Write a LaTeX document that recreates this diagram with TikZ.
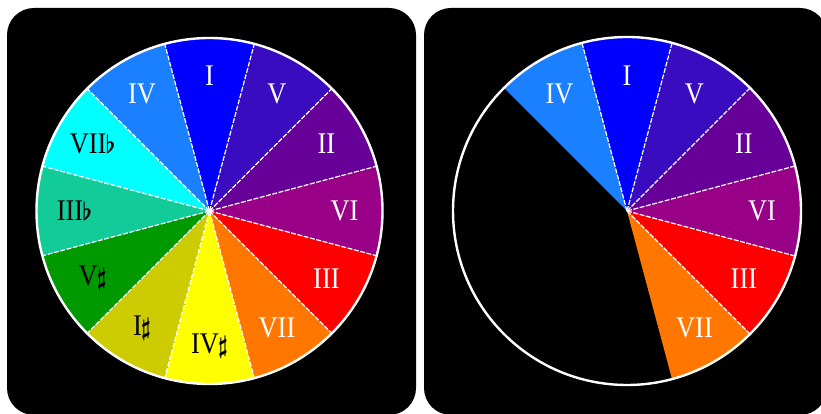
\documentclass[tikz,border=0pt]{standalone}
\usepackage{amsmath}
\usepackage{fontspec}
\setmainfont{Liberation Serif}
\definecolor{cI}{HTML}{0000FF}
\definecolor{cV}{HTML}{3A0CC0}
\definecolor{cII}{HTML}{660099}
\definecolor{cVI}{HTML}{990088}
\definecolor{cIII}{HTML}{FF0000}
\definecolor{cVII}{HTML}{FF7700}
\definecolor{cIVs}{HTML}{FFFF00}
\definecolor{cIs}{HTML}{CCCC00}
\definecolor{cVs}{HTML}{009900}
\definecolor{cIIIb}{HTML}{11CC99}
\definecolor{cVIIb}{HTML}{00FFFF}
\definecolor{cIV}{HTML}{1A80FF}
\tikzset{
  panel/.style={fill=black, rounded corners=27pt},
  sepline/.style={white, line width=1.2pt, dash pattern=on 5pt off 1.5pt},
  rim/.style={white, line width=2.4pt},
  lbl/.style={inner sep=0pt, font=\fontsize{30}{30}\selectfont},
}
\newcommand{\degtxt}[1]{\scalebox{0.88}[1]{#1}}
\newcommand{\shp}{\kern-1pt$\boldsymbol{\sharp}$}
\newcommand{\flt}{\kern-1pt$\boldsymbol{\flat}$}
\begin{document}
\begin{tikzpicture}[x=1pt,y=1pt]
\useasboundingbox (0,0) rectangle (821,414);
\fill[white] (0,0) rectangle (821,414);
\fill[panel] (7,-1) rectangle (416,406);
\fill[panel] (424,-1) rectangle (827,406);
% ---------- left wheel ----------
\begin{scope}[shift={(209.5,203)}]
  \def\R{173}
  \foreach \a/\c in {90/cI,60/cV,30/cII,0/cVI,-30/cIII,-60/cVII,-90/cIVs,-120/cIs,-150/cVs,180/cIIIb,150/cVIIb,120/cIV}
    \fill[\c] (0,0) -- (\a-15:\R) arc[start angle=\a-15, end angle=\a+15, radius=\R] -- cycle;
  \foreach \b in {15,45,...,345}
    \draw[sepline] (0,0) -- (\b:\R);
  \draw[rim] (0,0) circle[radius=\R];
  \foreach \a/\t/\tc/\n in {90/I/white/lI, 60/V/white/lV, 30/II/white/lII, 0/VI/white/lVI, -30/III/white/lIII, -60/VII/white/lVII, -90/{IV\shp}/black/lIVs, -120/{I\shp}/black/lIs, -150/{V\shp}/black/lVs, 180/{III\flt}/black/lIIIb, 150/{VII\flt}/black/lVIIb, 120/IV/white/lIV}
    \node[lbl, text=\tc] (\n) at (\a:135) {\degtxt{\t}};
\end{scope}
% ---------- right wheel ----------
\begin{scope}[shift={(627,203)}]
  \def\R{174}
  \foreach \a/\c in {90/cI,60/cV,30/cII,0/cVI,-30/cIII,-60/cVII,120/cIV}
    \fill[\c] (0,0) -- (\a-15:\R) arc[start angle=\a-15, end angle=\a+15, radius=\R] -- cycle;
  \foreach \b in {105,75,45,15,-15,-45}
    \draw[sepline] (0,0) -- (\b:\R);
  \draw[rim] (0,0) circle[radius=\R];
  \foreach \a/\t/\n in {90/I/rI, 60/V/rV, 30/II/rII, 0/VI/rVI, -30/III/rIII, -60/VII/rVII, 120/IV/rIV}
    \node[lbl, text=white] (\n) at (\a:135) {\degtxt{\t}};
\end{scope}
\end{tikzpicture}
\end{document}
